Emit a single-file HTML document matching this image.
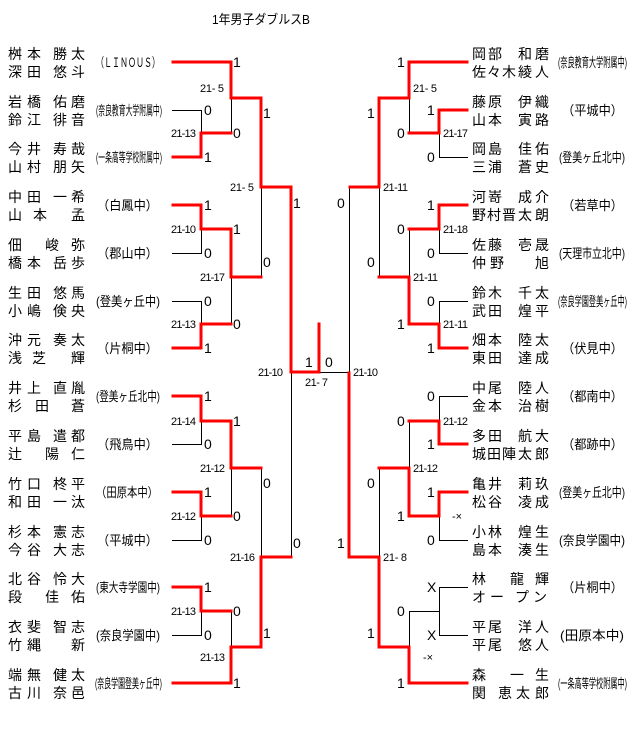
<!DOCTYPE html>
<html><head><meta charset="utf-8"><style>
html,body{margin:0;padding:0;background:#fff;}
svg{display:block;}
text{font-family:"Liberation Sans","Noto Sans CJK JP",sans-serif;fill:#000;}
.n{font-size:14px;}
.t{font-size:13px;}
.s{font-size:14px;}
.m{font-size:11px;}
</style></head><body>
<svg width="640" height="749" viewBox="0 0 640 749" xmlns="http://www.w3.org/2000/svg">
<text x="212" y="24" class="t" textLength="98" lengthAdjust="spacingAndGlyphs">1年男子ダブルスB</text>
<g fill="none" stroke="#000" stroke-width="1">
<path d="M172,110.5H201.5V133 M231.5,98V133 M172,253.5H201.5V229 M261.5,187V277 M172,301.5H201.5V324 M231.5,277V324 M291.5,372V557 M172,444.5H201.5V421 M231.5,468V516 M172,540.5H201.5V516 M261.5,468V557 M172,635.5H201.5V611 M231.5,611V647"/>
<path d="M319,372.5H349.5"/>
<path d="M349.5,187V372 M468,157.5H439.5V133 M409.5,98V133 M379.5,187V277 M468,253.5H439.5V229 M409.5,229V277 M468,301.5H439.5V324 M468,396.5H439.5V421 M409.5,421V468 M468,540.5H439.5V516 M379.5,468V557 M468,587.5H439.5V635.5H468 M409,611.5H439.5 M409.5,611V647"/>
</g>
<g fill="none" stroke="#f00" stroke-width="3" stroke-linejoin="miter" stroke-linecap="square">
<path d="M173,62H231V98H261V187H291V372H319V324"/>
<path d="M173,157H201V133H231"/>
<path d="M173,205H201V229H231V277H261"/>
<path d="M173,348H201V324H231"/>
<path d="M173,396H201V421H231V468H261"/>
<path d="M173,492H201V516H231"/>
<path d="M173,587H201V611H231"/>
<path d="M173,683H231V647H261V557H291"/>
<path d="M467,62H409V98H379V187H350"/>
<path d="M467,110H439V133H409"/>
<path d="M467,205H439V229H409"/>
<path d="M467,348H439V324H409V277H379"/>
<path d="M467,444H439V421H409"/>
<path d="M467,492H439V516H409V468H379"/>
<path d="M349,373V557H379V647H409V683H467"/>
</g>
<!-- left names -->
<g class="n">
<text x="8 27 53 71" y="59">桝本勝太</text><text x="8 27 53 71" y="77">深田悠斗</text>
<text x="8 27 53 71" y="107">岩橋佑磨</text><text x="8 27 53 71" y="125">鈴江徘音</text>
<text x="8 27 53 71" y="154">今井寿哉</text><text x="8 27 53 71" y="172">山村朋矢</text>
<text x="8 27 53 71" y="202">中田一希</text><text x="8 33 71" y="220">山本孟</text>
<text x="8 45 71" y="250">佃峻弥</text><text x="8 27 53 71" y="268">橋本岳歩</text>
<text x="8 27 53 71" y="298">生田悠馬</text><text x="8 27 53 71" y="316">小嶋倹央</text>
<text x="8 27 53 71" y="345">沖元奏太</text><text x="8 32 71" y="363">浅芝輝</text>
<text x="8 27 53 71" y="393">井上直胤</text><text x="8 35 71" y="411">杉田蒼</text>
<text x="8 27 53 71" y="441">平島遣都</text><text x="8 45 71" y="459">辻陽仁</text>
<text x="8 27 53 71" y="489">竹口柊平</text><text x="8 27 53 71" y="507">和田一汰</text>
<text x="8 27 53 71" y="537">杉本憲志</text><text x="8 27 53 71" y="555">今谷大志</text>
<text x="8 27 53 71" y="584">北谷怜大</text><text x="8 45 71" y="602">段佳佑</text>
<text x="8 27 53 71" y="632">衣斐智志</text><text x="8 27 71" y="650">竹縄新</text>
<text x="8 27 53 71" y="680">端無健太</text><text x="8 27 53 71" y="698">古川奈邑</text>
</g>
<!-- right names -->
<g class="n">
<text x="472 488 518 535" y="59">岡部和磨</text><text x="472 487 502 518 535" y="77">佐々木綾人</text>
<text x="472 488 518 535" y="107">藤原伊織</text><text x="472 488 518 535" y="125">山本寅路</text>
<text x="472 488 518 535" y="154">岡島佳佑</text><text x="472 488 518 535" y="172">三浦蒼史</text>
<text x="472 488 518 535" y="202">河嵜成介</text><text x="472 487 502 518 535" y="220">野村晋太朗</text>
<text x="472 488 518 535" y="250">佐藤壱晟</text><text x="472 490 535" y="268">仲野旭</text>
<text x="472 488 518 535" y="298">鈴木千太</text><text x="472 488 518 535" y="316">武田煌平</text>
<text x="472 488 518 535" y="345">畑本陸太</text><text x="472 488 518 535" y="363">東田達成</text>
<text x="472 488 518 535" y="393">中尾陸人</text><text x="472 488 518 535" y="411">金本治樹</text>
<text x="472 488 518 535" y="441">多田航大</text><text x="472 487 502 518 535" y="459">城田陣太郎</text>
<text x="472 488 518 535" y="489">亀井莉玖</text><text x="472 488 518 535" y="507">松谷凌成</text>
<text x="472 488 518 535" y="537">小林煌生</text><text x="472 488 518 535" y="555">島本湊生</text>
<text x="472 510 535" y="584">林龍輝</text><text x="472 490 515 533" y="602">オープン</text>
<text x="472 488 518 535" y="632">平尾洋人</text><text x="472 488 518 535" y="650">平尾悠人</text>
<text x="472 510 535" y="680">森一生</text><text x="472 498 516 535" y="698">関恵太郎</text>
</g>
<!-- left teams -->
<g class="t">
<text x="96" y="67" textLength="64" lengthAdjust="spacingAndGlyphs">（ＬＩＮＯＵＳ）</text>
<text x="96" y="115" textLength="66" lengthAdjust="spacingAndGlyphs">(奈良教育大学附属中)</text>
<text x="96" y="162" textLength="66" lengthAdjust="spacingAndGlyphs">(一条高等学校附属中)</text>
<text x="97" y="210" textLength="61" lengthAdjust="spacingAndGlyphs">（白鳳中）</text>
<text x="97" y="258" textLength="61" lengthAdjust="spacingAndGlyphs">（郡山中）</text>
<text x="96" y="306" textLength="64" lengthAdjust="spacingAndGlyphs">(登美ヶ丘中)</text>
<text x="97" y="353" textLength="61" lengthAdjust="spacingAndGlyphs">（片桐中）</text>
<text x="96" y="401" textLength="64" lengthAdjust="spacingAndGlyphs">(登美ヶ丘北中)</text>
<text x="97" y="449" textLength="61" lengthAdjust="spacingAndGlyphs">（飛鳥中）</text>
<text x="96" y="497" textLength="62" lengthAdjust="spacingAndGlyphs">（田原本中）</text>
<text x="97" y="545" textLength="61" lengthAdjust="spacingAndGlyphs">（平城中）</text>
<text x="96" y="592" textLength="64" lengthAdjust="spacingAndGlyphs">(東大寺学園中)</text>
<text x="96" y="640" textLength="64" lengthAdjust="spacingAndGlyphs">(奈良学園中)</text>
<text x="95" y="688" textLength="67" lengthAdjust="spacingAndGlyphs">(奈良学園登美ヶ丘中)</text>
</g>
<!-- right teams -->
<g class="t">
<text x="558" y="67" textLength="69" lengthAdjust="spacingAndGlyphs">(奈良教育大学附属中)</text>
<text x="562" y="115" textLength="61" lengthAdjust="spacingAndGlyphs">（平城中）</text>
<text x="559" y="162" textLength="66" lengthAdjust="spacingAndGlyphs">(登美ヶ丘北中)</text>
<text x="562" y="210" textLength="61" lengthAdjust="spacingAndGlyphs">（若草中）</text>
<text x="559" y="258" textLength="66" lengthAdjust="spacingAndGlyphs">(天理市立北中)</text>
<text x="558" y="306" textLength="69" lengthAdjust="spacingAndGlyphs">(奈良学園登美ヶ丘中)</text>
<text x="562" y="353" textLength="61" lengthAdjust="spacingAndGlyphs">（伏見中）</text>
<text x="562" y="401" textLength="61" lengthAdjust="spacingAndGlyphs">（都南中）</text>
<text x="562" y="449" textLength="61" lengthAdjust="spacingAndGlyphs">（都跡中）</text>
<text x="559" y="497" textLength="66" lengthAdjust="spacingAndGlyphs">(登美ヶ丘北中)</text>
<text x="559" y="545" textLength="66" lengthAdjust="spacingAndGlyphs">(奈良学園中)</text>
<text x="562" y="592" textLength="61" lengthAdjust="spacingAndGlyphs">（片桐中）</text>
<text x="560" y="640" textLength="64" lengthAdjust="spacingAndGlyphs">(田原本中)</text>
<text x="558" y="688" textLength="69" lengthAdjust="spacingAndGlyphs">(一条高等学校附属中)</text>
</g>
<!-- scores -->
<g class="s">
<text x="233" y="67">1</text><text x="204" y="115">0</text><text x="233" y="138">0</text><text x="204" y="162">1</text>
<text x="263" y="118">1</text><text x="293" y="208">1</text><text x="204" y="210">1</text><text x="233" y="234">1</text>
<text x="204" y="258">0</text><text x="263" y="267">0</text><text x="204" y="306">0</text><text x="233" y="329">0</text><text x="204" y="353">1</text>
<text x="204" y="401">1</text><text x="233" y="426">1</text><text x="204" y="449">0</text><text x="204" y="497">1</text><text x="233" y="521">0</text>
<text x="204" y="545">0</text><text x="263" y="488">0</text><text x="293" y="548">0</text><text x="204" y="592">1</text><text x="233" y="616">0</text>
<text x="204" y="640">0</text><text x="263" y="638">1</text><text x="233" y="688">1</text>
<text x="305" y="367">1</text><text x="325" y="367">0</text><text x="337" y="548">1</text>
<text x="397" y="67">1</text><text x="427" y="115">1</text><text x="397" y="138">0</text><text x="427" y="162">0</text>
<text x="367" y="118">1</text><text x="337" y="208">0</text><text x="427" y="210">1</text><text x="397" y="234">0</text>
<text x="427" y="258">0</text><text x="367" y="267">0</text><text x="427" y="306">0</text><text x="397" y="329">1</text><text x="427" y="353">1</text>
<text x="427" y="401">0</text><text x="397" y="426">0</text><text x="427" y="449">1</text><text x="427" y="497">1</text><text x="397" y="521">1</text>
<text x="427" y="545">0</text><text x="367" y="488">0</text><text x="427" y="592">X</text><text x="397" y="616">0</text>
<text x="427" y="640">X</text><text x="367" y="638">1</text><text x="397" y="688">1</text>
</g>
<g class="m">
<text x="200" y="92" textLength="24">21- 5</text><text x="171" y="137" textLength="25">21-13</text><text x="230" y="191" textLength="24">21- 5</text>
<text x="171" y="233" textLength="25">21-10</text><text x="200" y="281" textLength="25">21-17</text><text x="171" y="328" textLength="25">21-13</text>
<text x="258" y="376" textLength="25">21-10</text><text x="305" y="386" textLength="23">21- 7</text>
<text x="171" y="425" textLength="25">21-14</text><text x="200" y="472" textLength="25">21-12</text><text x="171" y="520" textLength="25">21-12</text>
<text x="230" y="561" textLength="25">21-16</text><text x="171" y="615" textLength="25">21-13</text><text x="200" y="661" textLength="25">21-13</text>
<text x="413" y="92" textLength="24">21- 5</text><text x="443" y="137" textLength="25">21-17</text><text x="383" y="191" textLength="25">21-11</text>
<text x="443" y="233" textLength="25">21-18</text><text x="413" y="281" textLength="25">21-11</text><text x="443" y="328" textLength="25">21-11</text>
<text x="353" y="376" textLength="25">21-10</text><text x="443" y="425" textLength="25">21-12</text><text x="413" y="472" textLength="25">21-12</text>
<text x="383" y="561" textLength="24">21- 8</text>
<text x="452" y="520">-×</text><text x="423" y="661">-×</text>
</g>
</svg>
</body></html>
